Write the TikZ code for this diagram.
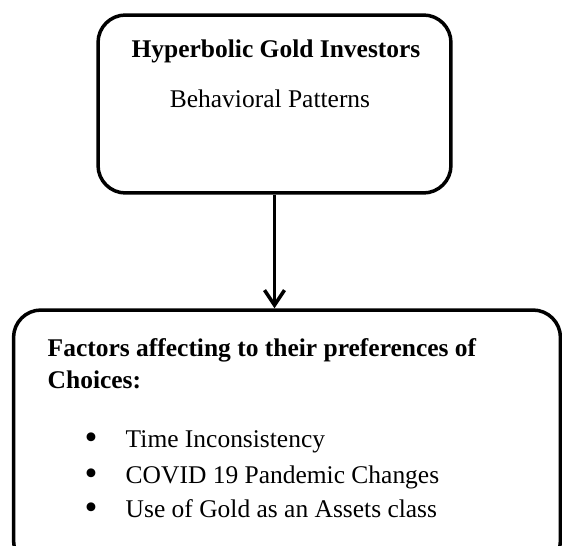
\documentclass[tikz,border=0pt]{standalone}
\usepackage{fontspec}
\setmainfont{Liberation Serif}
\usetikzlibrary{arrows.meta}

\begin{document}
\begin{tikzpicture}[x=0.02cm,y=-0.02cm,line width=0.07cm,
  box/.style={draw,rounded corners=0.55cm,inner sep=0pt},
  txt/.style={font=\fontsize{14.5}{17}\selectfont,inner sep=0pt,anchor=base west}]
  \useasboundingbox (0,0) rectangle (562,546);
  \clip (0,0) rectangle (562,546);
  % boxes
  \node[box,minimum width=7.06cm,minimum height=3.56cm] (inv) at (274.5,104) {};
  \node[box,minimum width=10.94cm,minimum height=5.16cm] (fac) at (287,439) {};
  % top box text
  \node[txt,anchor=base] (title) at (276,58) {\bfseries Hyperbolic Gold Investors};
  \node[txt,anchor=base] (sub) at (270,108) {Behavioral Patterns};
  % bottom box text
  \node[txt] (head1) at (46,357) {\bfseries Factors affecting to their preferences of};
  \node[txt] (head2) at (46,389) {\bfseries Choices:};
  \foreach \y/\t [count=\i] in {448/Time Inconsistency,484/COVID 19 Pandemic Changes,518/Use of Gold as an Assets class}{
    \node[txt,anchor=base,font=\fontsize{21}{21}\selectfont] (dot\i) at (91,\y+2) {\textbullet};
    \node[txt] (item\i) at (124,\y) {\t};
  }
  % arrow
  \draw[-{Straight Barb[length=0.3cm,width=0.4cm]}] (inv.south) -- (inv.south |- fac.north);
\end{tikzpicture}
\end{document}
